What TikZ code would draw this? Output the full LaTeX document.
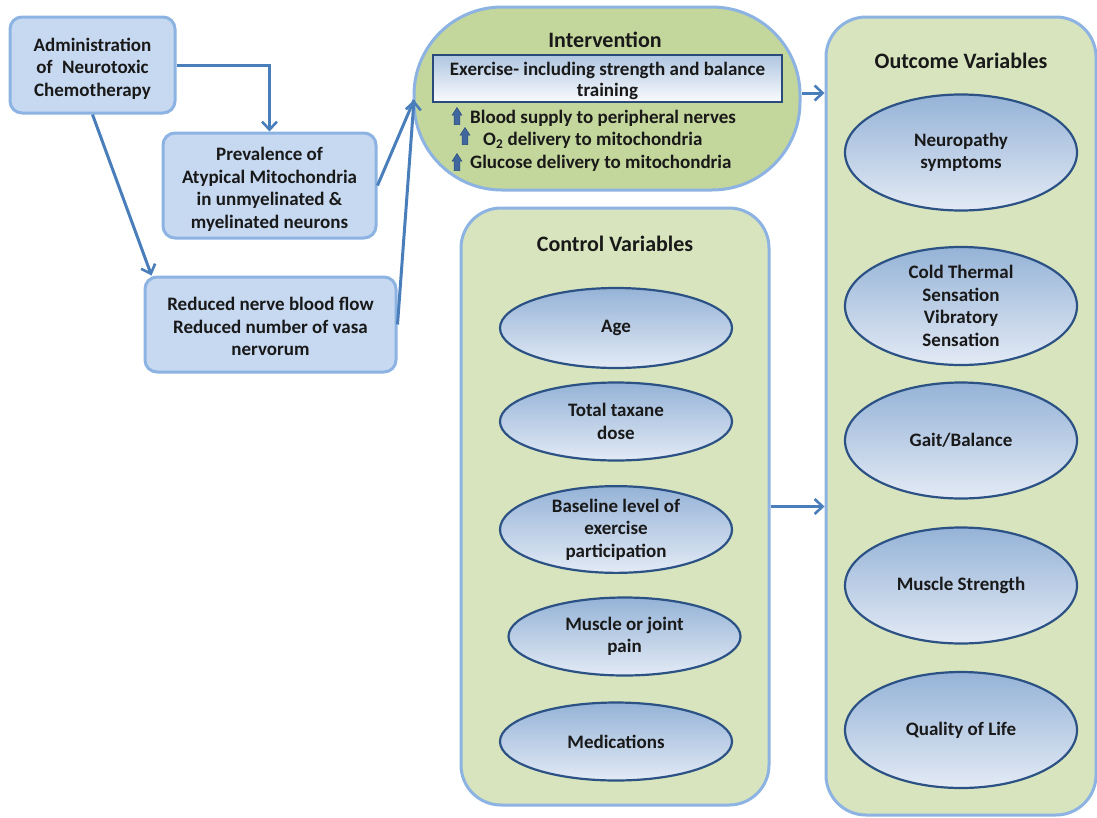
\documentclass[tikz,border=0pt]{standalone}
\usepackage{fontspec}
\setmainfont{Carlito}
\usetikzlibrary{shapes.geometric,arrows.meta,calc}
\definecolor{boxfill}{HTML}{C6D9F1}
\definecolor{boxline}{HTML}{8DB3E2}
\definecolor{arrcol}{HTML}{4A7EBB}
\definecolor{greenA}{HTML}{C3D69B}
\definecolor{greenB}{HTML}{D7E4BD}
\definecolor{elltop}{HTML}{95B3D7}
\definecolor{ellbot}{HTML}{E3EAF5}
\definecolor{ellline}{HTML}{2C5285}
\definecolor{exline}{HTML}{2A4A7C}
\definecolor{upfill}{HTML}{41689E}
\tikzset{
  txt/.style={font=\bfseries\fontsize{19}{22.5}\selectfont, align=center, text=black!90},
  bluebox/.style={draw=boxline, line width=3pt, fill=boxfill, rounded corners=12pt, inner sep=0pt},
  ell/.style={txt, ellipse, draw=ellline, line width=2.2pt, top color=elltop, bottom color=ellbot, inner sep=0pt, minimum width=232pt},
  panel/.style={draw=boxline, line width=3pt, fill=greenB, rounded corners=40pt, inner sep=0pt},
  ttl/.style={font=\bfseries\fontsize{22}{24}\selectfont, text=black!90},
  arr/.style={draw=arrcol, line width=3pt, -{Straight Barb[length=8pt,width=15pt,line width=2.6pt]}},
  plain/.style={draw=arrcol, line width=3pt},
  bul/.style={font=\bfseries\fontsize{19}{22}\selectfont, text=black!90, anchor=west, inner sep=0pt},
  uparrow/.pic={\fill[upfill, draw=exline, line width=0.5pt] (-2.8,8.5) -- (-2.8,-1) -- (-4.8,-1) -- (0,-8.5) -- (4.8,-1) -- (2.8,-1) -- (2.8,8.5) -- cycle;}
}
\begin{document}
\begin{tikzpicture}[x=1pt,y=-1pt]
\useasboundingbox (0,0) rectangle (1097,817);
\fill[white] (0,0) rectangle (1097,817);

% left boxes
\node[bluebox, minimum width=165pt, minimum height=96pt] (admin) at (92.5,65) {};
\node[txt] (admint) at (92.5,68.5) {Administration\\of\enspace Neurotoxic\\Chemotherapy};
\node[bluebox, minimum width=213pt, minimum height=105pt] (prev) at (269.5,185.5) {};
\node[txt] (prevt) at (269.5,189.5) {Prevalence of\\Atypical Mitochondria\\in unmyelinated \&\\myelinated neurons};
\node[bluebox, minimum width=251pt, minimum height=95pt] (red) at (270.5,324.5) {};
\node[txt] (redt) at (270.5,326.5) {Reduced nerve blood flow\\Reduced number of vasa\\nervorum};

% intervention
\node[draw=boxline, line width=3pt, fill=greenA, rounded corners=88pt, minimum width=386pt, minimum height=183pt, inner sep=0pt] (interv) at (607,98.5) {};
\node[ttl] (intt) at (605,40) {Intervention};
\node[draw=exline, line width=2.4pt, top color=elltop!75, bottom color=white!95!elltop, minimum width=349pt, minimum height=47pt, inner sep=0pt] (ex) at (607.5,78.5) {};
\node[txt, font=\bfseries\fontsize{19}{21.5}\selectfont] (ext) at (607.5,81) {Exercise- including strength and balance\\training};
\node[bul] (b1) at (470,118) {Blood supply to peripheral nerves};
\node[bul] (b2) at (483,140.5) {O\textsubscript{2} delivery to mitochondria};
\node[bul] (b3) at (470,163.5) {Glucose delivery to mitochondria};
\pic at (457,116) {uparrow};
\pic at (465,136) {uparrow};
\pic at (457,162) {uparrow};

% control panel
\node[panel, minimum width=308pt, minimum height=597pt] (ctrl) at (615,506.5) {};
\node[ttl] (ctrlt) at (615,244) {Control Variables};
\node[ell, minimum height=80pt] (age) at (616,328) {Age};
\node[ell, minimum height=78pt] (tax) at (616,421.5) {Total taxane\\dose};
\node[ell, minimum height=86pt] (base) at (616,529.5) {Baseline level of\\exercise\\participation};
\node[ell, minimum height=78pt] (pain) at (624.5,636.5) {Muscle or joint\\pain};
\node[ell, minimum height=78pt] (med) at (616,741.5) {Medications};

% outcome panel
\node[panel, minimum width=270pt, minimum height=798pt] (out) at (961,416) {};
\node[ttl] (outt) at (961,61) {Outcome Variables};
\node[ell, minimum height=116pt] (neu) at (961,152.5) {Neuropathy\\symptoms};
\node[ell, minimum height=118pt] (cold) at (961,306) {Cold Thermal\\Sensation\\Vibratory\\Sensation};
\node[ell, minimum height=116pt] (gait) at (961,440.5) {Gait/Balance};
\node[ell, minimum height=116pt] (mus) at (961,585.5) {Muscle Strength};
\node[ell, minimum height=116pt] (qol) at (961,730) {Quality of Life};

% connectors
\coordinate (conv) at (414,100);
\draw[arr] (admin.east) -| (prev.north);
\draw[arr] (admin.south) -- ([xshift=8pt]red.north west);
\draw[plain] (prev.east) -- (conv);
\draw[arr] (red.east) -- (conv);
\draw[arr] (interv.east |- 0,93) -- (out.west |- 0,93);
\draw[arr] (ctrl.east) -- (ctrl.east -| out.west);
\end{tikzpicture}
\end{document}
